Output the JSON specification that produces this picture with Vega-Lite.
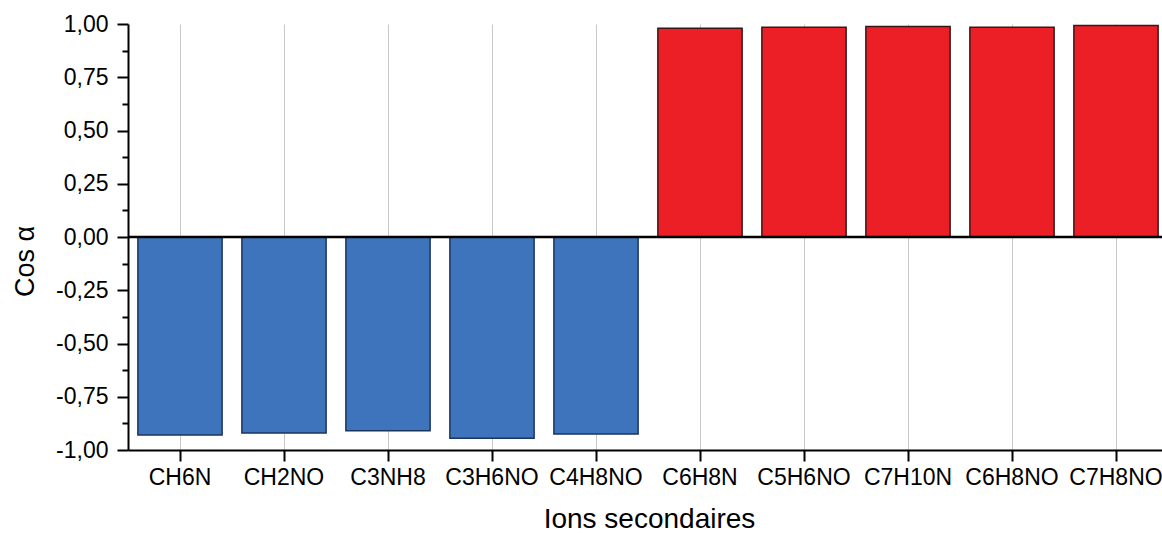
{
  "$schema": "https://vega.github.io/schema/vega-lite/v6.json",
  "autosize": {"type": "none"},
  "width": 1034,
  "height": 426,
  "padding": {"left": 128, "top": 24, "right": 0, "bottom": 85},
  "background": "white",
  "config": {"view": {"stroke": null}, "font": "Liberation Sans"},
  "data": {"values": [
    {"ion": "CH6N", "cos": -0.93},
    {"ion": "CH2NO", "cos": -0.92},
    {"ion": "C3NH8", "cos": -0.91},
    {"ion": "C3H6NO", "cos": -0.945},
    {"ion": "C4H8NO", "cos": -0.925},
    {"ion": "C6H8N", "cos": 0.98},
    {"ion": "C5H6NO", "cos": 0.985},
    {"ion": "C7H10N", "cos": 0.988},
    {"ion": "C6H8NO", "cos": 0.985},
    {"ion": "C7H8NO", "cos": 0.993}
  ]},
  "resolve": {"axis": {"y": "independent"}},
  "layer": [
    {
      "mark": {"type": "bar", "strokeWidth": 1.5},
      "encoding": {
        "x": {
          "field": "ion", "type": "nominal", "sort": null,
          "scale": {"paddingInner": 0.19, "paddingOuter": 0.095, "range": [0, 1040]},
          "axis": {
            "title": "Ions secondaires", "titleFontSize": 28, "titleFontWeight": "normal", "titleColor": "black",
            "titleX": 521, "titleY": 69, "titleBaseline": "middle", "titleAlign": "center",
            "labelFontSize": 23, "labelColor": "black", "labelAngle": 0, "labelPadding": 5,
            "labelOverlap": false, "labelFlush": false, "bandPosition": 0.5,
            "tickSize": 11, "tickWidth": 2, "tickColor": "black",
            "domainColor": "black", "domainWidth": 2,
            "grid": true, "gridColor": "#c8c8c8", "gridWidth": 1
          }
        },
        "y": {
          "field": "cos", "type": "quantitative",
          "scale": {"domain": [-1, 1], "nice": false},
          "axis": {
            "orient": "left",
            "title": "Cos α", "titleFontSize": 27, "titleFontWeight": "normal", "titleColor": "black",
            "titleX": -103, "titleY": 237, "titleBaseline": "middle", "titleAlign": "center",
            "values": [-1, -0.75, -0.5, -0.25, 0, 0.25, 0.5, 0.75, 1],
            "labelExpr": "(datum.value < 0 ? '-' : '') + replace(format(abs(datum.value), '.2f'), '.', ',')",
            "labelFontSize": 23, "labelColor": "black", "labelPadding": 9,
            "tickSize": 11, "tickWidth": 2, "tickColor": "black",
            "domainColor": "black", "domainWidth": 2,
            "grid": false
          }
        },
        "fill": {"condition": {"test": "datum.cos < 0", "value": "#3E74BB"}, "value": "#EC1F26"},
        "stroke": {"condition": {"test": "datum.cos < 0", "value": "#1B355F"}, "value": "#3A1616"}
      }
    },
    {
      "data": {"values": [{}]},
      "mark": {"type": "rule", "color": "black", "strokeWidth": 2.5},
      "encoding": {
        "y": {"datum": 0, "type": "quantitative", "axis": {
          "orient": "left", "title": null, "labels": false, "domain": false, "grid": false,
          "values": [-0.875, -0.625, -0.375, -0.125, 0.125, 0.375, 0.625, 0.875],
          "tickSize": 6, "tickWidth": 2, "tickColor": "black"
        }},
        "x": {"datum": 0, "type": "quantitative", "scale": null},
        "x2": {"datum": 1040}
      }
    }
  ]
}
